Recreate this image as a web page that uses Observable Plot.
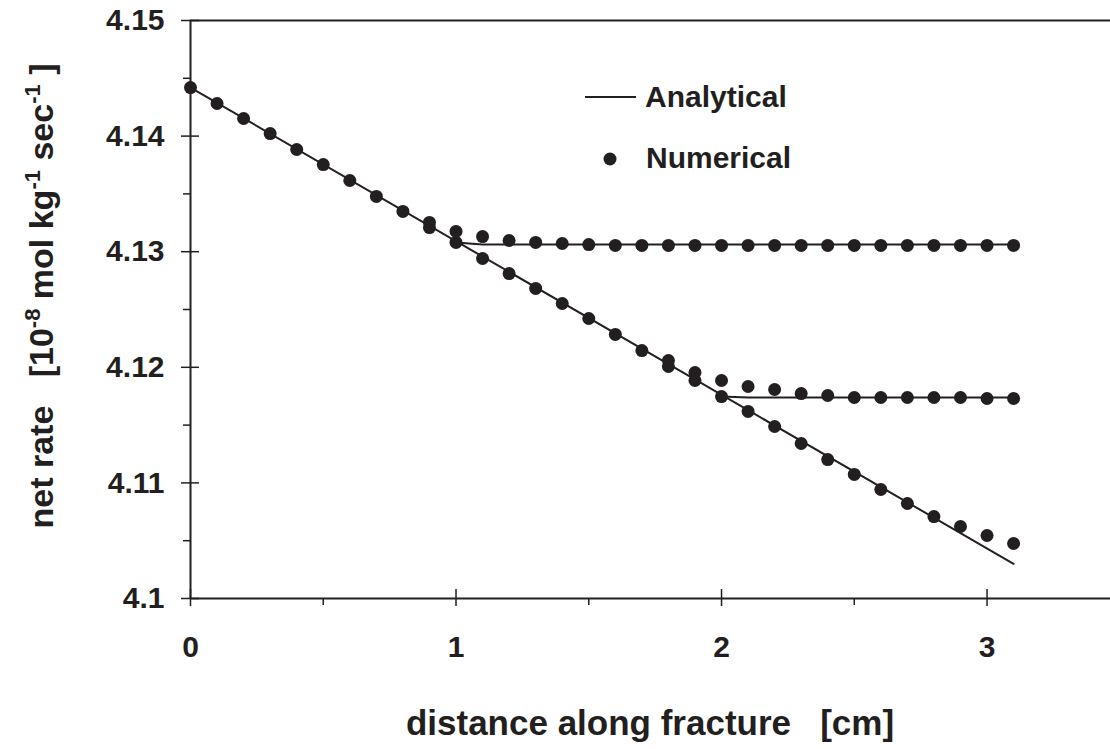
<!DOCTYPE html>
<html><head><meta charset="utf-8">
<script src="https://cdn.jsdelivr.net/npm/d3@7"></script>
<script src="https://cdn.jsdelivr.net/npm/@observablehq/plot@0.6"></script>
<style>
body{margin:0;background:#fff;}
#chart{width:1110px;height:749px;}
</style></head><body><div id="chart"></div>
<script>
// Numerical results (dots)
const xDiag = [0,0.1,0.2,0.3,0.4,0.5,0.6,0.7,0.8,0.9,1.0,1.1,1.2,1.3,1.4,1.5,1.6,1.7,1.8,1.9,2.0,2.1,2.2,2.3,2.4,2.5,2.6,2.7,2.8,2.9,3.0,3.1];
const yDiag = [4.14420,4.14282,4.14152,4.14022,4.13884,4.13754,4.13616,4.13478,4.13348,4.13209,4.13080,4.12941,4.12811,4.12682,4.12552,4.12422,4.12284,4.12145,4.12007,4.11886,4.11747,4.11618,4.11488,4.11341,4.11202,4.11073,4.10943,4.10822,4.10709,4.10623,4.10545,4.10476];
const xUpper = [0.9,1.0,1.1,1.2,1.3,1.4,1.5,1.6,1.7,1.8,1.9,2.0,2.1,2.2,2.3,2.4,2.5,2.6,2.7,2.8,2.9,3.0,3.1];
const yUpper = [4.13253,4.13175,4.13131,4.13097,4.13080,4.13071,4.13062,4.13054,4.13054,4.13054,4.13054,4.13054,4.13054,4.13054,4.13054,4.13054,4.13054,4.13054,4.13054,4.13054,4.13054,4.13054,4.13054];
const xMiddle = [1.8,1.9,2.0,2.1,2.2,2.3,2.4,2.5,2.6,2.7,2.8,2.9,3.0,3.1];
const yMiddle = [4.12059,4.11955,4.11886,4.11834,4.11808,4.11773,4.11756,4.11739,4.11739,4.11739,4.11739,4.11739,4.11730,4.11730];

// Analytical solutions (lines)
const xAnaDiag = [0, 3.1];
const yAnaDiag = [4.1442, 4.1030];
const xAnaUpper = [1.0, 1.1, 3.1];
const yAnaUpper = [4.1308, 4.13062, 4.13062];
const xAnaMiddle = [2.0, 2.1, 3.1];
const yAnaMiddle = [4.11747, 4.11739, 4.11739];

// Ticks
const yMajor = [4.10, 4.11, 4.12, 4.13, 4.14, 4.15];
const yLabels = ["4.1", "4.11", "4.12", "4.13", "4.14", "4.15"];
const yMinor = [4.105, 4.115, 4.125, 4.135, 4.145];
const xMajor = [0, 1, 2, 3];
const xLabels = ["0", "1", "2", "3"];
const xMinor = [0.5, 1.5, 2.5];

const legendLabels = ["Analytical", "Numerical"];

const ink = "#231f20";
const font = '"Liberation Sans", Arial, Helvetica, sans-serif';

const toRows = (xs, ys, s) => xs.map((x, i) => ({x, y: ys[i], s}));
const numerical = [
  ...toRows(xDiag, yDiag, "diag"),
  ...toRows(xUpper, yUpper, "upper"),
  ...toRows(xMiddle, yMiddle, "middle")
];
const analytical = [
  ...toRows(xAnaDiag, yAnaDiag, "diag"),
  ...toRows(xAnaUpper, yAnaUpper, "upper"),
  ...toRows(xAnaMiddle, yAnaMiddle, "middle")
];

const chart = Plot.plot({
  width: 1110, height: 749,
  marginLeft: 190, marginRight: 0, marginTop: 20, marginBottom: 151,
  x: {domain: [0, 3.465]},
  y: {domain: [4.1, 4.15]},
  style: {fontFamily: font, color: ink, background: "#fff"},
  marks: [
    Plot.axisY({ticks: yMajor, tickSize: 18, dx: 9, tickPadding: 17, fontSize: 30, fontWeight: "bold",
      tickFormat: (d, i) => yLabels[i], label: null, strokeWidth: 1.5}),
    Plot.axisY({ticks: yMinor, tickSize: 7, text: null, label: null, strokeWidth: 1.5}),
    Plot.axisX({ticks: xMajor, tickSize: 17, dy: -9, tickPadding: 29, fontSize: 30, fontWeight: "bold",
      tickFormat: (d, i) => xLabels[i], label: null, strokeWidth: 1.5}),
    Plot.axisX({ticks: xMinor, tickSize: 7, text: null, label: null, strokeWidth: 1.5}),
    Plot.ruleY([4.15, 4.1], {stroke: ink, strokeWidth: 2}),
    Plot.ruleX([0], {stroke: ink, strokeWidth: 2}),
    Plot.line(analytical, {x: "x", y: "y", z: "s", stroke: ink, strokeWidth: 2}),
    Plot.dot(numerical, {x: "x", y: "y", r: 6.5, fill: ink, stroke: "none"})
  ]
});
document.getElementById("chart").appendChild(chart);

const svg = d3.select(chart);
// X axis title
svg.append("text")
  .attr("x", 650).attr("y", 735)
  .attr("text-anchor", "middle")
  .style("font-family", font).style("font-weight", "bold").style("font-size", "35px")
  .attr("fill", ink).style("white-space", "pre")
  .text("distance along fracture   [cm]");
// Y axis title with superscripts
const yt = svg.append("text")
  .attr("transform", "translate(53,296) rotate(-90)")
  .attr("text-anchor", "middle")
  .style("font-family", font).style("font-weight", "bold").style("font-size", "34px")
  .attr("fill", ink).style("white-space", "pre");
const parts = [["net rate   [10", 0], ["-8", 1], [" mol kg", 0], ["-1", 1], [" sec", 0], ["-1", 1], [" ]", 0]];
let raised = false;
for (const [t, sup] of parts) {
  const ts = yt.append("tspan").text(t);
  if (sup) { ts.style("font-size", "22px").attr("dy", -13); raised = true; }
  else if (raised) { ts.attr("dy", 13); raised = false; }
}
// Legend
const lg = svg.append("g").attr("fill", ink);
lg.append("line").attr("x1", 585).attr("x2", 636).attr("y1", 97).attr("y2", 97).attr("stroke", ink).attr("stroke-width", 2);
lg.append("circle").attr("cx", 610).attr("cy", 159).attr("r", 6.5).attr("fill", ink);
[[645, 107], [646, 168]].forEach(([x, y], i) => {
  lg.append("text").attr("x", x).attr("y", y).attr("text-anchor", "start")
    .style("font-family", font).style("font-weight", "bold").style("font-size", "30px")
    .text(legendLabels[i]);
});
</script>
</body></html>
